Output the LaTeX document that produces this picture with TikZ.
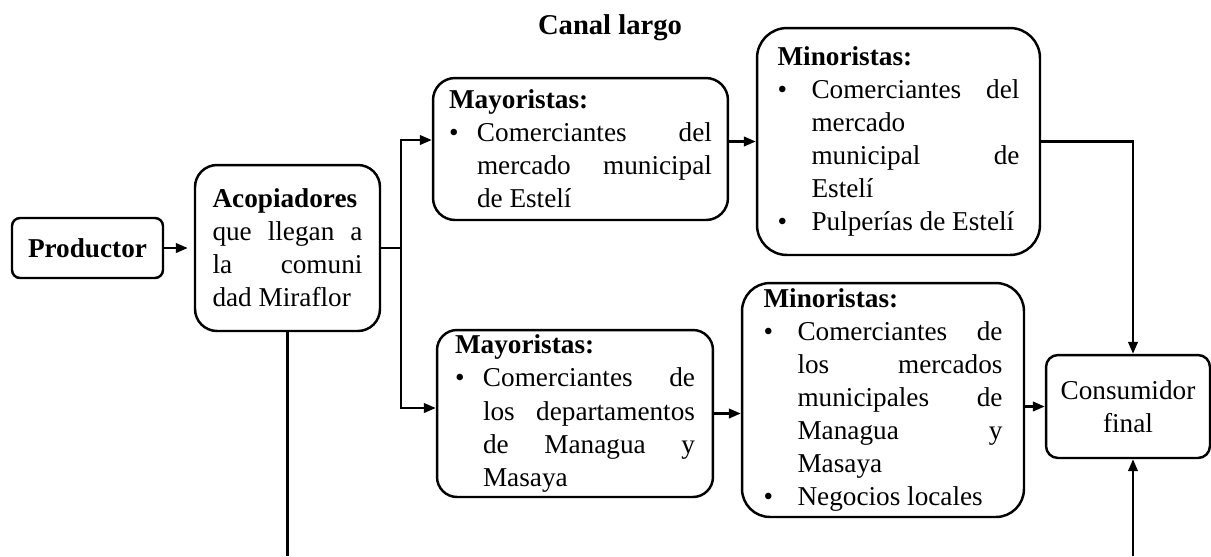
\documentclass[tikz,border=0pt]{standalone}
\usepackage{fontspec}
\setmainfont{Liberation Serif}
\usetikzlibrary{arrows.meta}
\newcommand{\boxfont}{\fontsize{15.5}{18.8}\selectfont}
\newcommand{\bitem}[2]{\par\noindent\hangindent=#1\hangafter=1\makebox[#1][l]{\textbullet}#2\par}
\tikzset{
    box/.style = {
        draw,
        line width     = 1.4pt,
        rounded corners= 0.44cm,
        inner ysep     = 0pt,
        font           = \boxfont,
    },
    arr/.style = {
        line width = 1.4pt,
        -{Triangle[length=0.24cm, width=0.19cm]},
    },
    line/.style = {line width = 1.4pt},
}

\begin{document}
\begin{tikzpicture}[x=0.02cm, y=-0.02cm]
    \useasboundingbox (0,0) rectangle (1211,556);

    \node at (610, 28) (title) [font=\fontsize{16.3}{19}\selectfont\bfseries] {Canal largo};

    \node at (87.5, 248) (prod) [box, rounded corners=0.16cm, minimum width=3.02cm, minimum height=1.2cm] {\textbf{Productor}};

    \node at (287.5, 248) (acop) [box, text width=3.0cm, align=justify, inner xsep=0.35cm, minimum height=3.32cm] {%
        \textbf{Acopiadores}\par\noindent que llegan a\linebreak la comuni\linebreak dad Miraflor};

    \node at (580.5, 149) (may1) [box, text width=5.26cm, align=justify, inner xsep=0.32cm, minimum height=2.84cm] {%
        \noindent\textbf{Mayoristas:}
        \bitem{0.56cm}{Comerciantes del\linebreak mercado municipal\linebreak de Estelí}};

    \node at (898.5, 141.5) (min1) [box, rounded corners=0.6cm, text width=4.84cm, align=justify, inner xsep=0.41cm, minimum height=4.54cm] {%
        \noindent\textbf{Minoristas:}
        \bitem{0.68cm}{Comerciantes del\linebreak mercado\linebreak municipal de\linebreak Estelí}
        \bitem{0.68cm}{Pulperías de Estelí}};

    \node at (575, 413.5) (may2) [box, rounded corners=0.4cm, text width=4.8cm, align=justify, inner xsep=0.36cm, minimum height=3.34cm] {%
        \noindent\textbf{Mayoristas:}
        \bitem{0.56cm}{Comerciantes de\linebreak los departamentos\linebreak de Managua y\linebreak Masaya}};

    \node at (883, 400) (min2) [box, rounded corners=0.56cm, text width=4.78cm, align=justify, inner xsep=0.43cm, minimum height=4.68cm] {%
        \noindent\textbf{Minoristas:}
        \bitem{0.68cm}{Comerciantes de\linebreak los mercados\linebreak municipales de\linebreak Managua y\linebreak Masaya}
        \bitem{0.68cm}{Negocios locales}};

    \node at (1128, 406.5) (cons) [box, rounded corners=0.24cm, align=center, minimum width=3.28cm, minimum height=2.06cm] {Consumidor\\final};

    \coordinate (split) at (401, 248);
    \coordinate (cut) at (0, 556);

    % canal largo
    \draw [arr, shorten >=0.12cm] (prod.east) -- (prod.east -| acop.west);
    \draw [line] (acop.east) -- (split);
    \draw [arr] (split) |- ([yshift=0.18cm]may1.west);
    \draw [arr] (split) |- ([yshift=0.11cm]may2.west);
    \draw [arr] (min1.west -| may1.east) -- (min1.west);
    \draw [arr] (may2.east) -- (may2.east -| min2.west);
    \draw [arr] (min1.east) -| ([xshift=0.1cm]cons.north);
    \draw [arr] (min2.east |- cons.west) -- (cons.west);

    % hacia el canal corto
    \draw [line] (acop.south) -- (acop.south |- cut);
    \draw [arr] ([xshift=0.1cm]cons.south |- cut) -- ([xshift=0.1cm]cons.south);
\end{tikzpicture}
\end{document}
